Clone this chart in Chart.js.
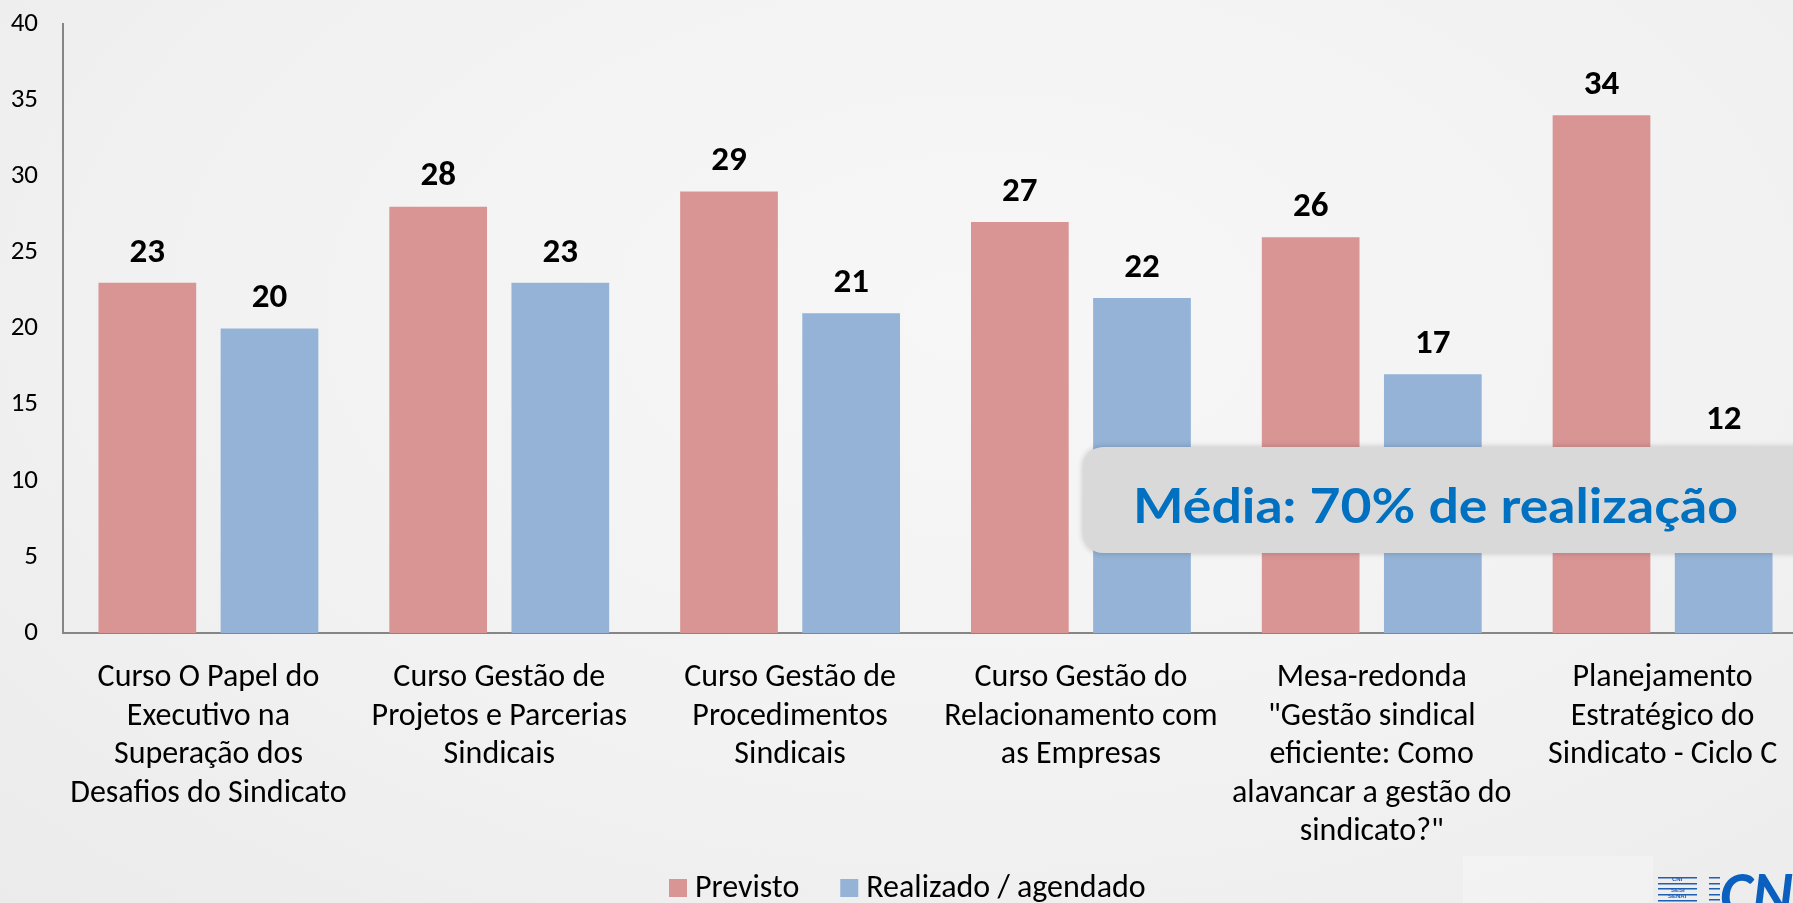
<!DOCTYPE html>
<html>
<head>
<meta charset="utf-8">
<script src="https://cdn.jsdelivr.net/npm/chart.js@4"></script>
<style>
  html, body { margin: 0; padding: 0; overflow: hidden; }
  body {
    width: 1793px; height: 903px;
    background: radial-gradient(ellipse at 55% 35%, #f7f7f7 0%, #f2f2f2 55%, #ebebeb 100%);
  }
  #wrap { position: relative; width: 1793px; height: 903px; overflow: hidden; }
  canvas { display: block; }
</style>
</head>
<body>
<div id="wrap"><canvas id="chart" width="1818" height="903"></canvas></div>
<script>
// data
const categories = [
  ['Curso O Papel do', 'Executivo na', 'Superação dos', 'Desafios do Sindicato'],
  ['Curso Gestão de', 'Projetos e Parcerias', 'Sindicais'],
  ['Curso Gestão de', 'Procedimentos', 'Sindicais'],
  ['Curso Gestão do', 'Relacionamento com', 'as Empresas'],
  ['Mesa-redonda', '"Gestão sindical', 'eficiente: Como', 'alavancar a gestão do', 'sindicato?"'],
  ['Planejamento', 'Estratégico do', 'Sindicato - Ciclo C']
];
const previsto = [23, 28, 29, 27, 26, 34];
const realizado = [20, 23, 21, 22, 17, 12];
const seriesNames = ['Previsto', 'Realizado / agendado'];
const seriesColors = ['#d99594', '#95b3d7'];
const yMin = 0, yMax = 40, yStep = 5;
const highlightText = 'Média: 70% de realização';

// pick a font close to Calibri
function hasFont(name) {
  const c = document.createElement('canvas').getContext('2d');
  const s = 'abcdefghijklmnopqrstuvwxyz0123456789';
  c.font = '40px monospace';
  const w0 = c.measureText(s).width;
  c.font = "40px '" + name + "', monospace";
  return c.measureText(s).width !== w0;
}
let FONT = "'Open Sans', sans-serif", k = 0.8;
if (hasFont('Carlito')) { FONT = "Carlito, sans-serif"; k = 1; }
else if (hasFont('Liberation Sans Narrow')) { FONT = "'Liberation Sans Narrow', sans-serif"; k = 0.9; }

const valueLabels = {
  id: 'valueLabels',
  afterDatasetsDraw(chart) {
    const ctx = chart.ctx;
    ctx.save();
    ctx.font = 'bold ' + Math.round(35 * k) + 'px ' + FONT;
    ctx.fillStyle = '#000';
    ctx.textAlign = 'center';
    ctx.textBaseline = 'middle';
    chart.data.datasets.forEach((ds, i) => {
      chart.getDatasetMeta(i).data.forEach((bar, j) => {
        ctx.fillText(ds.data[j], bar.x, bar.y - 30);
      });
    });
    ctx.restore();
  }
};

const extras = {
  id: 'extras',
  beforeDraw(chart) {
    // lighter patch behind the logo area
    const ctx = chart.ctx;
    ctx.fillStyle = 'rgba(255,255,255,0.25)';
    ctx.fillRect(1463, 856, 190, 47);
  },
  afterDraw(chart) {
    const ctx = chart.ctx;
    ctx.save();
    // legend
    ctx.font = Math.round(32 * k) + 'px ' + FONT;
    ctx.textBaseline = 'alphabetic';
    let x = 669;
    chart.data.datasets.forEach(ds => {
      ctx.fillStyle = ds.backgroundColor;
      ctx.fillRect(x, 879, 18, 18);
      ctx.fillStyle = '#000';
      ctx.fillText(ds.label, x + 26, 897);
      x += 26 + ctx.measureText(ds.label).width + 41;
    });

    // highlight box
    ctx.save();
    ctx.shadowColor = 'rgba(0,0,0,0.22)';
    ctx.shadowBlur = 6;
    ctx.fillStyle = '#d9d9d9';
    ctx.beginPath();
    ctx.roundRect(1083, 447, 780, 106, 20);
    ctx.fill();
    ctx.restore();
    ctx.fillStyle = '#0070c0';
    ctx.font = 'bold 48px Lato, sans-serif';
    const tw = ctx.measureText(highlightText).width;
    ctx.translate(1133, 523);
    ctx.scale(605 / tw, 1);
    ctx.fillText(highlightText, 0, 0);
    ctx.setTransform(1, 0, 0, 1, 0, 0);

    // logo corner
    ctx.fillStyle = '#1f5fb4';
    [877, 883, 888, 894, 900].forEach(y => ctx.fillRect(1658, y, 39, 1.5));
    ctx.font = 'bold 6px sans-serif';
    ctx.fillText('CNI', 1672, 881);
    ctx.fillText('SESI', 1671, 892);
    ctx.fillText('SENAI', 1668, 898);
    [877, 883, 888, 894, 899].forEach(y => ctx.fillRect(1709, y, 11, 1.5));
    ctx.font = 'italic bold 62px ' + FONT;
    ctx.fillStyle = '#0a5fbf';
    ctx.fillText('CNI', 1720, 915);
    ctx.restore();
  }
};

new Chart(document.getElementById('chart'), {
  type: 'bar',
  data: {
    labels: categories,
    datasets: [
      { label: seriesNames[0], data: previsto, backgroundColor: seriesColors[0] },
      { label: seriesNames[1], data: realizado, backgroundColor: seriesColors[1] }
    ]
  },
  options: {
    responsive: false,
    animation: false,
    devicePixelRatio: 1,
    layout: { padding: { top: 24, right: 10, bottom: 0, left: 0 } },
    datasets: { bar: { categoryPercentage: 0.84, barPercentage: 0.8 } },
    plugins: {
      legend: { display: false },
      tooltip: { enabled: false }
    },
    scales: {
      x: {
        grid: { display: false, drawTicks: false },
        border: { display: true, color: '#868686', width: 2 },
        ticks: {
          color: '#000',
          padding: 26,
          maxRotation: 0,
          autoSkip: false,
          font: { family: FONT, size: Math.round(32 * k), lineHeight: 38.5 / Math.round(32 * k) }
        },
        afterFit(s) {
          s.height = 903 - 633;
          s.paddingLeft = 0; s.paddingRight = 0;
        }
      },
      y: {
        min: yMin, max: yMax,
        grid: { display: false, drawTicks: false },
        border: { display: true, color: '#868686', width: 2 },
        ticks: {
          stepSize: yStep,
          color: '#000',
          padding: 25,
          font: { family: FONT, size: Math.round(27 * k) }
        },
        afterFit(s) {
          s.width = 63;
          s.paddingTop = 0; s.paddingBottom = 0;
        }
      }
    }
  },
  plugins: [valueLabels, extras]
});
</script>
</body>
</html>
